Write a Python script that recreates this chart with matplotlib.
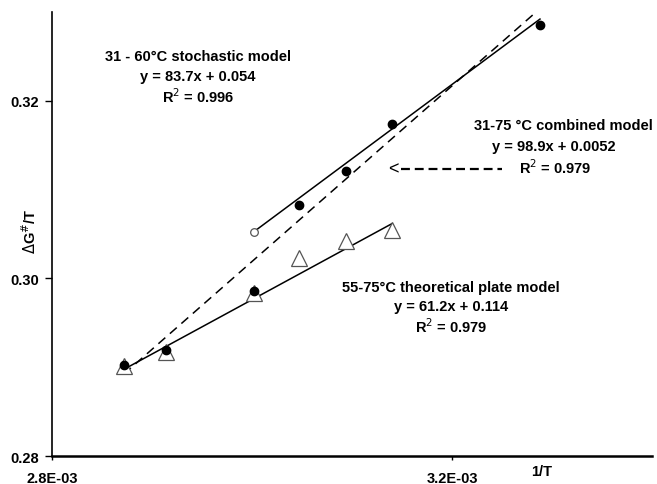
import numpy as np
import matplotlib.pyplot as plt
from matplotlib.lines import Line2D

plt.rcParams['font.family'] = ['Liberation Sans', 'DejaVu Sans']

# data (x = 1/T)
x_all = [2.872e-3, 2.914e-3, 3.002e-3, 3.047e-3, 3.094e-3, 3.140e-3, 3.288e-3]
y_filled = [0.2903, 0.2919, 0.2986, 0.3083, 0.3121, 0.3174, 0.3285]
x_open = [3.002e-3]
y_open = [0.3052]
x_tri = [2.872e-3, 2.914e-3, 3.002e-3, 3.047e-3, 3.094e-3, 3.140e-3]
y_tri = [0.2901, 0.2917, 0.2984, 0.3023, 0.3042, 0.3054]

# fitted lines: slope, intercept, x range
stoch = (83.7, 0.054, [3.002e-3, 3.288e-3])
plate = (61.2, 0.114, [2.872e-3, 3.140e-3])
comb = (98.9, 0.0052, [2.872e-3, 3.284e-3])

fig = plt.figure(figsize=(6.57, 4.85), dpi=100)
ax = fig.add_axes([0.0791, 0.0577, 0.9133, 0.9155])

for (m, b, xr), ls in [(stoch, '-'), (plate, '-'), (comb, (0, (6, 4)))]:
    xx = np.array(xr)
    ax.plot(xx, m * xx + b, color='black', linestyle=ls, linewidth=1.1, zorder=2)

ax.plot(x_tri, y_tri, linestyle='none', marker='^', markersize=11,
        markerfacecolor='white', markeredgecolor='#555555', markeredgewidth=0.9, zorder=3)
ax.plot(x_all, y_filled, linestyle='none', marker='o', markersize=6,
        color='black', zorder=4)
ax.plot(x_open, y_open, linestyle='none', marker='o', markersize=5.5,
        markerfacecolor='white', markeredgecolor='#555555', markeredgewidth=0.9, zorder=4)

ax.set_xlim(2.8e-3, 3.4e-3)
ax.set_ylim(0.28, 0.33)
ax.set_xticks([2.8e-3, 3.2e-3])
ax.set_xticklabels(['2.8E-03', '3.2E-03'])
ax.set_yticks([0.28, 0.30, 0.32])
ax.set_yticklabels(['0.28', '0.30', '0.32'])
for lab in ax.get_xticklabels() + ax.get_yticklabels():
    lab.set_fontweight('bold')
    lab.set_fontsize(10.5)
ax.tick_params(axis='x', direction='out', length=3, width=1, pad=8)
ax.tick_params(axis='y', direction='out', length=5, width=1, pad=4)

ax.spines['top'].set_visible(False)
ax.spines['right'].set_visible(False)
ax.spines['left'].set_linewidth(1.2)
ax.spines['bottom'].set_linewidth(1.8)

fig.text(30 / 657, 1 - 231 / 485, r'$\Delta$G$^{\#}$/T', rotation=90, ha='center', va='center',
         fontsize=10.5, fontweight='bold')
fig.text(542 / 657, 1 - 472 / 485, '1/T', ha='center', va='center', fontsize=10.5, fontweight='bold')

tk = dict(ha='center', va='center', fontsize=10.5, fontweight='bold')
def px(x, y):
    return x / 657, 1 - y / 485

fig.text(*px(198, 57), '31 - 60°C stochastic model', **tk)
fig.text(*px(198, 77), 'y = 83.7x + 0.054', **tk)
fig.text(*px(198, 97), 'R$^{2}$ = 0.996', **tk)

fig.text(*px(563, 126), '31-75 °C combined model', **tk)
fig.text(*px(554, 147), 'y = 98.9x + 0.0052', **tk)
fig.text(*px(555, 168), 'R$^{2}$ = 0.979', **tk)

# dashed pointer "<-----"
fig.text(*px(393, 170), '<', ha='center', va='center', fontsize=13)
fig.add_artist(Line2D([401 / 657, 502 / 657], [1 - 170 / 485, 1 - 170 / 485],
                      color='black', linewidth=1.6, linestyle=(0, (4, 2.2))))

fig.text(*px(451, 288), '55-75°C theoretical plate model', **tk)
fig.text(*px(451, 307), 'y = 61.2x + 0.114', **tk)
fig.text(*px(451, 327), 'R$^{2}$ = 0.979', **tk)

fig.savefig('out.png', dpi=100, facecolor='white')
